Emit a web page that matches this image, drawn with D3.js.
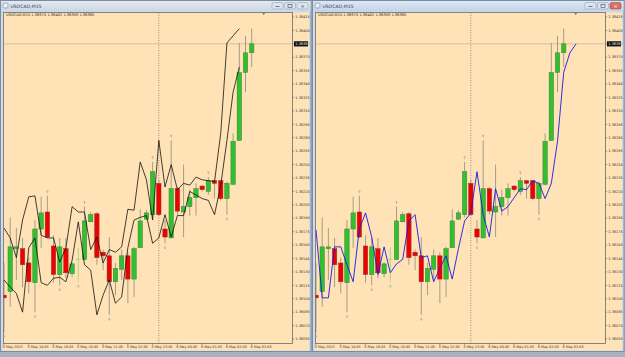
<!DOCTYPE html>
<html><head><meta charset="utf-8">
<script src="https://cdn.jsdelivr.net/npm/d3@7/dist/d3.min.js"></script>
<style>html,body{margin:0;padding:0;background:#a7b1bf;overflow:hidden}</style>
</head><body>
<svg id="chart" width="625" height="357" xmlns="http://www.w3.org/2000/svg"></svg>
<script>
const windowTitle = "USDCAD,M15";
const infoValues = ["1.38375", "1.38402", "1.38359", "1.38385"];
const barOpen  = [1.38104,1.38108,1.38156,1.38156,1.38140,1.38118,1.38178,1.38197,1.38159,1.38127,1.38156,1.38128,1.38144,1.38144,1.38186,1.38195,1.38152,1.38148,1.38119,1.38133,1.38148,1.38122,1.38157,1.38189,1.38194,1.38229,1.38178,1.38168,1.38223,1.38197,1.38203,1.38213,1.38226,1.38220,1.38232,1.38232,1.38212,1.38228,1.38277,1.38353,1.38375];
const barHigh  = [1.38140,1.38191,1.38179,1.38168,1.38146,1.38188,1.38214,1.38215,1.38171,1.38168,1.38168,1.38141,1.38157,1.38203,1.38197,1.38197,1.38155,1.38169,1.38140,1.38155,1.38152,1.38158,1.38200,1.38199,1.38253,1.38233,1.38188,1.38277,1.38225,1.38250,1.38222,1.38229,1.38227,1.38236,1.38233,1.38232,1.38231,1.38285,1.38386,1.38394,1.38402];
const barLow   = [1.38063,1.38091,1.38121,1.38113,1.38106,1.38085,1.38157,1.38168,1.38118,1.38115,1.38123,1.38124,1.38119,1.38143,1.38186,1.38138,1.38132,1.38082,1.38104,1.38121,1.38095,1.38102,1.38157,1.38188,1.38191,1.38193,1.38162,1.38168,1.38194,1.38169,1.38193,1.38193,1.38220,1.38216,1.38212,1.38210,1.38194,1.38227,1.38277,1.38331,1.38359];
const barClose = [1.38101,1.38158,1.38158,1.38138,1.38119,1.38178,1.38196,1.38169,1.38127,1.38158,1.38129,1.38139,1.38144,1.38187,1.38194,1.38146,1.38148,1.38119,1.38134,1.38148,1.38122,1.38156,1.38187,1.38196,1.38242,1.38194,1.38169,1.38223,1.38198,1.38203,1.38213,1.38223,1.38222,1.38232,1.38229,1.38212,1.38229,1.38276,1.38353,1.38375,1.38385];
const earlierCloses = [1.38177, 1.38101];
const upFractalBars = [7, 13, 24, 27, 33];
const downFractalBars = [0, 5, 9, 12, 17, 26, 36];
const separatorBar = 25;
const priceTicks = ["1.38415","1.38400","1.38385","1.38370","1.38355","1.38340","1.38325","1.38310","1.38295","1.38280","1.38265","1.38250","1.38235","1.38220","1.38205","1.38190","1.38175","1.38160","1.38145","1.38130","1.38115","1.38100","1.38085","1.38070","1.38055"];
const timeLabels = ["5 May 2023","5 May 18:45","5 May 19:45","5 May 20:45","5 May 21:45","5 May 22:45","5 May 23:45","6 May 00:45","6 May 01:45","6 May 02:45","6 May 03:45"];
const timeLabelBars = [0,4,8,12,16,20,24,28,32,36,40];

const svg = d3.select("#chart");
const FONT = "Tahoma, 'DejaVu Sans', sans-serif";
const bg = "#ffe3b6";
const bars = barOpen.map((o,i)=>({i, o, h:barHigh[i], l:barLow[i], c:barClose[i]}));

const panels = [
  {wx:0, ww:312, cl:3.5, cr:292.5, active:false, mode:"hl"},
  {wx:312, ww:313, cl:315.5, cr:605.5, active:true, mode:"close"}
];
const chartTop = 12.5, chartBottom = 343.5;
const y = d3.scaleLinear().domain([1.38055, 1.38415]).range([339, 17]);

panels.forEach(p=>{
  const g = svg.append("g");
  g.append("rect").attr("x",p.wx+0.5).attr("y",0.5).attr("width",p.ww-1.5).attr("height",351)
    .attr("fill","#cfdbe9").attr("stroke","#7d8ba0");
  const tg = g.append("linearGradient").attr("id","tg"+p.wx).attr("x1",0).attr("x2",0).attr("y1",0).attr("y2",1);
  tg.append("stop").attr("offset",0).attr("stop-color", p.active?"#dde8f5":"#e3e9f1");
  tg.append("stop").attr("offset",1).attr("stop-color", p.active?"#c3d3e7":"#ccd6e2");
  g.append("rect").attr("x",p.wx+1).attr("y",1).attr("width",p.ww-2.5).attr("height",10.5).attr("fill","url(#tg"+p.wx+")");
  g.append("rect").attr("x",p.wx+3).attr("y",3).attr("width",5).attr("height",5).attr("rx",1)
    .attr("fill","#e8eef7").attr("stroke","#6f86a6").attr("stroke-width",0.6);
  g.append("text").attr("x",p.wx+10.5).attr("y",7.8).attr("font-family",FONT).attr("font-size",4.6)
    .attr("fill","#2a3a55").text(windowTitle);
  const bx = p.wx + p.ww - 40;
  [0,1,2].forEach(k=>{
    const red = p.active && k===2;
    g.append("rect").attr("x",bx+k*12.5).attr("y",2.5).attr("width",11).attr("height",6.5).attr("rx",1.5)
      .attr("fill", red?"#d9715f":"#dbe4ef").attr("stroke", red?"#9b3b2e":"#8596ad").attr("stroke-width",0.5);
  });
  g.append("line").attr("x1",bx+3.5).attr("x2",bx+7.5).attr("y1",6.5).attr("y2",6.5).attr("stroke","#3b4a60").attr("stroke-width",0.7);
  g.append("rect").attr("x",bx+12.5+3.5).attr("y",4.3).attr("width",4).attr("height",3).attr("fill","none").attr("stroke","#3b4a60").attr("stroke-width",0.6);
  g.append("text").attr("x",bx+25+5.5).attr("y",7.8).attr("text-anchor","middle").attr("font-family",FONT)
    .attr("font-size",5).attr("fill", p.active?"#fff":"#3b4a60").text("×");
  g.append("rect").attr("x",p.cl-0.5).attr("y",chartTop).attr("width",p.wx+p.ww-3-(p.cl-0.5)).attr("height",338)
    .attr("fill",bg);
  g.append("rect").attr("x",p.cl).attr("y",chartTop).attr("width",p.cr-p.cl).attr("height",chartBottom-chartTop)
    .attr("fill","none").attr("stroke","#6b6b6b").attr("stroke-width",0.8);

  const x = d3.scaleLinear().domain([0,40]).range([p.cl+0.5, p.cl+248.2]);
  const clipId = "clip"+p.wx;
  g.append("clipPath").attr("id",clipId).append("rect").attr("x",p.cl).attr("y",chartTop).attr("width",p.cr-p.cl).attr("height",chartBottom-chartTop);
  const pg = g.append("g").attr("clip-path","url(#"+clipId+")");

  pg.append("line").attr("x1",x(separatorBar)).attr("x2",x(separatorBar)).attr("y1",chartTop).attr("y2",chartBottom)
    .attr("stroke","#555").attr("stroke-width",0.6).attr("stroke-dasharray","1,1.5");
  const last = bars[bars.length-1];
  pg.append("line").attr("x1",p.cl).attr("x2",p.cr).attr("y1",y(last.c)).attr("y2",y(last.c))
    .attr("stroke","#c9b79c").attr("stroke-width",0.8);

  const cg = pg.append("g");
  bars.forEach(b=>{
    const cx = x(b.i);
    const doji = b.o===b.c;
    const up = b.c>b.o;
    const wickCol = doji ? "#9ed27e" : "#8f8a7a";
    cg.append("line").attr("x1",cx).attr("x2",cx).attr("y1",y(b.h)).attr("y2",y(b.l))
      .attr("stroke",wickCol).attr("stroke-width",0.8);
    if(doji){
      cg.append("line").attr("x1",cx-2.3).attr("x2",cx+2.3).attr("y1",y(b.o)).attr("y2",y(b.o))
        .attr("stroke",wickCol).attr("stroke-width",0.8);
    } else {
      const y0 = y(Math.max(b.o,b.c)), y1 = y(Math.min(b.o,b.c));
      cg.append("rect").attr("x",cx-2.2).attr("y",y0).attr("width",4.4).attr("height",Math.max(1,y1-y0))
        .attr("fill", up?"#2fc12f":"#f00000").attr("stroke", up?"#4b7a3a":"#8a3a2a").attr("stroke-width",0.5);
    }
  });

  const fg = pg.append("g").attr("fill","none").attr("stroke","#a8a396").attr("stroke-width",0.6);
  upFractalBars.forEach(i=>{
    const cx = x(i), yy = y(bars[i].h) - 2.5;
    fg.append("path").attr("d",`M${cx-1.3},${yy-1.6}L${cx},${yy-3}L${cx+1.3},${yy-1.6}M${cx},${yy-3}V${yy}`);
  });
  downFractalBars.forEach(i=>{
    const cx = x(i), yy = y(bars[i].l) + 2.5;
    fg.append("path").attr("d",`M${cx-1.3},${yy+1.6}L${cx},${yy+3}L${cx+1.3},${yy+1.6}M${cx},${yy+3}V${yy}`);
  });

  if(p.mode==="hl"){
    const hiPts = d3.range(0, bars.length-2).map(i=>[x(i), y(barHigh[i+2])]);
    const loPts = d3.range(0, bars.length-2).map(i=>[x(i), y(barLow[i+2])]);
    [hiPts, loPts].forEach(pts=>pg.append("path").attr("d",d3.line()(pts)).attr("fill","none")
      .attr("stroke","#111").attr("stroke-width",0.8));
  } else {
    const all = earlierCloses.concat(barClose);
    const pts = all.map((v,j)=>[x(j), y(v)]);
    pg.append("path").attr("d",d3.line()(pts)).attr("fill","none").attr("stroke","#1a1ae6").attr("stroke-width",0.9);
  }

  const sx = x(40) + 12;
  g.append("path").attr("d",`M${sx-1.6},${chartTop+0.5}L${sx+1.6},${chartTop+0.5}L${sx},${chartTop+2.6}Z`).attr("fill","#6a7d96");

  g.append("text").attr("x",p.cl+2.5).attr("y",chartTop+3.8).attr("font-family",FONT).attr("font-size",3.6)
    .attr("fill","#222").text(windowTitle+"  "+infoValues.join(" "));

  const ag = g.append("g").attr("font-family",FONT).attr("font-size",3.5).attr("fill","#333");
  priceTicks.forEach(t=>{
    const yy = y(+t);
    ag.append("line").attr("x1",p.cr).attr("x2",p.cr+1.8).attr("y1",yy).attr("y2",yy).attr("stroke","#555").attr("stroke-width",0.5);
    ag.append("text").attr("x",p.cr+2.8).attr("y",yy+1.2).text(t);
  });
  const ly = y(last.c);
  ag.append("rect").attr("x",p.cr+1.5).attr("y",ly-2.6).attr("width",14).attr("height",5.2).attr("fill","#111");
  ag.append("text").attr("x",p.cr+2.8).attr("y",ly+1.2).attr("fill","#f4f4f4").text(infoValues[3]);

  const tgp = g.append("g").attr("font-family",FONT).attr("font-size",3.4).attr("fill","#333");
  timeLabels.forEach((t,k)=>{
    const xx = x(timeLabelBars[k]);
    tgp.append("line").attr("x1",xx).attr("x2",xx).attr("y1",chartBottom).attr("y2",chartBottom+1.8).attr("stroke","#555").attr("stroke-width",0.5);
    tgp.append("text").attr("x",xx-1.2).attr("y",chartBottom+4.8).text(t);
  });
});
</script>
</body></html>
